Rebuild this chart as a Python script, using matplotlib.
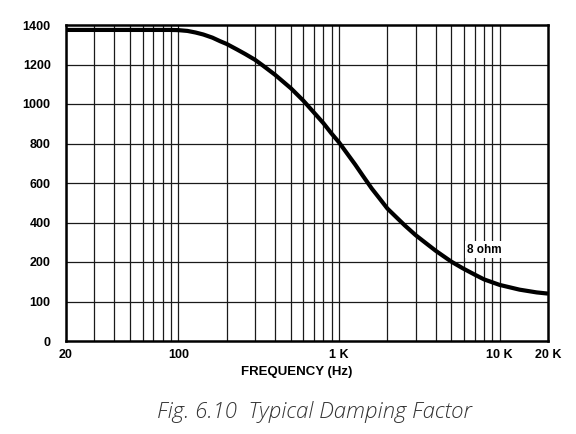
import numpy as np
import matplotlib
matplotlib.use('Agg')
import matplotlib.pyplot as plt

freq = [20, 50, 89, 100, 114, 128, 143, 163, 182, 200, 232, 261, 300, 337,
        400, 503, 600, 700, 800, 900, 1000, 1120, 1260, 1410, 1600, 1800,
        2000, 2300, 2570, 3000, 3520, 4000, 5000, 5900, 7000, 8000, 10000,
        13300, 17000, 20000]
damping = [1375, 1375, 1375, 1374, 1370, 1362, 1352, 1336, 1318, 1304, 1276,
           1253, 1224, 1194, 1148, 1079, 1017, 956, 903, 850, 806, 751, 694,
           636, 572, 519, 471, 423, 385, 336, 292, 257, 202, 184, 168, 156,
           142, 130, 123, 120]

xticks = [20, 100, 1000, 10000, 20000]
xlabels = ['20', '100', '1 K', '10 K', '20 K']
yticks = [0, 100, 200, 400, 600, 800, 1000, 1200, 1400]
xgrid = [f for dec in (10, 100, 1000) for f in np.arange(1, 10) * dec
         if 20 <= f <= 10000] + [10000]
curve_label = '8 ohm'
caption = 'Fig. 6.10  Typical Damping Factor'


# axe y non lineaire : 0-200 par pas de 100, puis pas de 200
def fwd(v):
    v = np.asarray(v, dtype=float)
    return np.where(v <= 200, v / 100., 2 + (v - 200) / 200.)


def inv(p):
    p = np.asarray(p, dtype=float)
    return np.where(p <= 2, p * 100., 200 + (p - 2) * 200.)


fig = plt.figure(figsize=(5.76, 4.34), dpi=100)
ax = fig.add_axes([66 / 576, 1 - 341 / 434, (548 - 66) / 576, (341 - 25) / 434])

ax.set_xscale('log')
ax.set_yscale('function', functions=(fwd, inv))
ax.set_xlim(20, 20000)
ax.set_ylim(0, 1400)

for f in xgrid:
    ax.axvline(f, color='#1a1a1a', lw=0.9, zorder=1)
for v in yticks[1:-1]:
    ax.axhline(v, color='#1a1a1a', lw=0.9, zorder=1)

ax.plot(freq, damping, color='black', lw=3.0, solid_capstyle='butt',
        solid_joinstyle='round', zorder=3)

ax.text(8070, 263, curve_label, ha='center', va='center', fontsize=8.5,
        fontweight='bold', family='Liberation Sans',
        bbox=dict(facecolor='white', edgecolor='none', pad=1.5), zorder=4)

ax.set_xticks(xticks)
ax.set_xticklabels(xlabels)
ax.xaxis.set_minor_locator(matplotlib.ticker.NullLocator())
ax.set_yticks(yticks)
ax.set_yticklabels([str(v) for v in yticks])
ax.tick_params(length=0, labelsize=9)
for lab in ax.get_xticklabels() + ax.get_yticklabels():
    lab.set_family('Liberation Sans')
    lab.set_fontweight('bold')
ax.tick_params(axis='x', pad=6)
ax.tick_params(axis='y', pad=11)

for s in ax.spines.values():
    s.set_linewidth(1.8)
    s.set_zorder(5)

fig.text(297 / 576, 1 - 372 / 434, 'FREQUENCY (Hz)', ha='center', va='center',
         fontsize=9.5, fontweight='bold', family='Liberation Sans')
fig.text(314 / 576, 1 - 412 / 434, caption, ha='center', va='center',
         fontsize=16, style='italic', fontweight='light', family='Open Sans',
         color='#333333')

fig.savefig('out.png', dpi=100)
